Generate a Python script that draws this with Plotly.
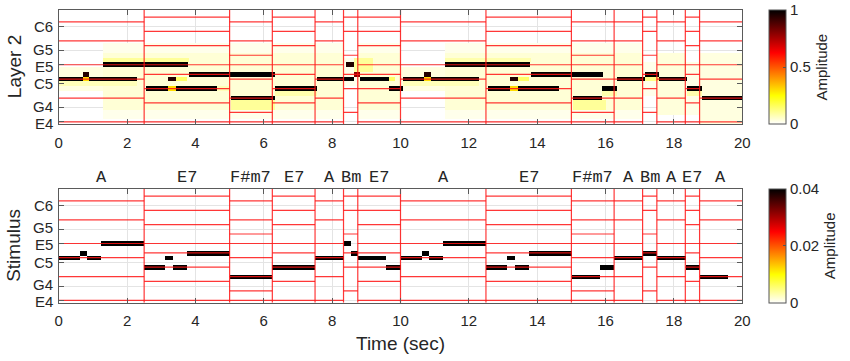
import numpy as np
import plotly.graph_objects as go

# ---------------- data ----------------
# chord segments (start, end in seconds) and names
seg_start = [0.0, 2.5, 5.0, 6.25, 7.5, 8.333, 8.75, 10.0, 12.5, 15.0, 16.25, 17.083, 17.5, 18.333, 18.75]
seg_end   = [2.5, 5.0, 6.25, 7.5, 8.333, 8.75, 10.0, 12.5, 15.0, 16.25, 17.083, 17.5, 18.333, 18.75, 20.0]
seg_chord = ["A", "E7", "F#m7", "E7", "A", "Bm", "E7", "A", "E7", "F#m7", "A", "Bm", "A", "E7", "A"]

# chord tones (MIDI numbers) inside the displayed range
tones_A    = [64, 69, 73, 76, 81, 85]
tones_E7   = [64, 68, 71, 74, 76, 80, 83, 86]
tones_Fsm7 = [64, 66, 69, 73, 76, 78, 81, 85]
tones_Bm   = [66, 71, 74, 78, 83, 86]

# y ticks
ytick_vals = [64, 67, 72, 76, 79, 84]
ytick_text = ["E4", "G4", "C5", "E5", "G5", "C6"]
ytick_nudge = [-1.3, 1.3, 0, -1.3, 1.3, 0]   # small label offsets (px) to keep labels apart
xtick_vals = [0, 2, 4, 6, 8, 10, 12, 14, 16, 18, 20]

# stimulus notes
stim_on  = [0.0, 0.625, 0.833, 1.25, 2.5, 3.125, 3.333, 3.75, 5.0, 6.25,
            7.5, 8.333, 8.542, 8.75, 9.583, 10.0, 10.625, 10.833, 11.25,
            12.5, 13.125, 13.333, 13.75, 15.0, 15.833, 16.25, 17.083, 17.5, 18.333, 18.75]
stim_off = [0.625, 0.833, 1.25, 2.5, 3.125, 3.333, 3.75, 5.0, 6.25, 7.5,
            8.333, 8.542, 8.75, 9.583, 10.0, 10.625, 10.833, 11.25, 12.5,
            13.125, 13.333, 13.75, 15.0, 15.833, 16.25, 17.083, 17.5, 18.333, 18.75, 19.583]
stim_pitch = [73, 74, 73, 76, 71, 73, 71, 74, 69, 71,
              73, 76, 74, 73, 71, 73, 74, 73, 76,
              71, 73, 71, 74, 69, 71, 73, 74, 73, 71, 69]
stim_amp = [0.04] * len(stim_on)

# Layer 2 notes
l2_on  = [0.0, 0.70, 0.88, 1.31, 2.55, 3.21, 3.43, 3.82, 5.05, 6.33, 7.57, 8.40, 8.65, 8.80, 9.66,
          10.07, 10.69, 10.88, 11.30, 12.54, 13.20, 13.42, 13.81, 15.04, 15.90, 16.32, 17.15, 17.54, 18.39, 18.81]
l2_off = [0.70, 0.88, 2.29, 3.79, 3.21, 3.43, 4.62, 6.33, 6.33, 7.57, 8.64, 8.64, 8.80, 9.66, 10.07,
          10.69, 10.88, 12.31, 13.79, 13.20, 13.42, 14.62, 15.93, 15.90, 16.32, 17.15, 17.54, 18.39, 18.81, 20.0]
l2_pitch = [73, 74, 73, 76, 71, 73, 71, 74, 69, 71, 73, 76, 74, 73, 71,
            73, 74, 73, 76, 71, 73, 71, 74, 69, 71, 73, 74, 73, 71, 69]
l2_amp = [1.0, 0.95, 1.0, 1.0, 1.0, 0.95, 1.0, 1.0, 1.0, 1.0, 1.0, 0.95, 0.8, 1.0, 1.0,
          1.0, 0.95, 1.0, 1.0, 1.0, 0.95, 1.0, 1.0, 1.0, 1.0, 1.0, 1.0, 1.0, 1.0, 1.0]

# Layer 2 low-level activity (start, end, low pitch, high pitch, amplitude)
haze_t0 = [0.0, 1.3, 1.3, 8.75, 8.75, 10.0, 11.3, 11.3, 17.5, 18.75, 8.333, 17.083, 18.333,
           0.70, 0.0, 1.3, 3.21, 3.43, 4.6, 5.05, 6.33, 8.64, 9.66,
           10.69, 10.07, 11.3, 13.20, 13.42, 15.04, 15.9, 17.15, 18.39]
haze_t1 = [1.3, 8.333, 8.333, 10.0, 10.0, 11.3, 17.083, 17.083, 18.333, 20.0, 8.75, 17.5, 18.75,
           0.88, 2.3, 3.8, 3.43, 3.75, 5.0, 6.33, 7.57, 9.2, 9.85,
           10.88, 12.3, 13.8, 13.42, 13.75, 16.0, 16.32, 17.6, 18.81]
haze_p0 = [71, 65, 67, 65, 67, 71, 65, 67, 66, 64, 72, 70, 66,
           73, 72, 77, 71, 73, 71, 67, 70, 75, 73,
           73, 72, 77, 71, 73, 67, 70, 73, 70]
haze_p1 = [75, 80, 78, 80, 78, 75, 80, 78, 78, 78, 77, 76, 76,
           73, 72, 77, 71, 73, 71, 68, 70, 77, 73,
           73, 72, 77, 71, 73, 68, 70, 73, 70]
haze_amp = [0.03, 0.02, 0.04, 0.02, 0.04, 0.03, 0.02, 0.04, 0.035, 0.03, 0.02, 0.02, 0.025,
            0.3, 0.07, 0.1, 0.3, 0.15, 0.07, 0.1, 0.08, 0.1, 0.15,
            0.3, 0.07, 0.08, 0.3, 0.15, 0.1, 0.08, 0.12, 0.08]

# ---------------- build matrices ----------------
dt = 0.02
tc = np.arange(0, 20, dt) + dt / 2
pitches = np.arange(64, 88)


def fill(z, on, off, plo, phi, amp):
    for a, b, p0, p1, v in zip(on, off, plo, phi, amp):
        cols = (tc >= a) & (tc < b)
        for p in range(p0, p1 + 1):
            r = p - 64
            if 0 <= r < len(pitches):
                z[r, cols] = np.maximum(z[r, cols], v)


z_top = np.zeros((len(pitches), len(tc)))
fill(z_top, haze_t0, haze_t1, haze_p0, haze_p1, haze_amp)
fill(z_top, l2_on, l2_off, l2_pitch, l2_pitch, l2_amp)

z_bot = np.zeros((len(pitches), len(tc)))
fill(z_bot, stim_on, stim_off, stim_pitch, stim_pitch, stim_amp)


def to_list(z):
    return [[(float(v) if v > 0 else None) for v in row] for row in z]


cs = [[0, "rgb(255,255,255)"], [0.25, "rgb(255,255,0)"], [0.625, "rgb(255,0,0)"], [1, "rgb(0,0,0)"]]

W, H = 850, 361
xl, xr = 58.7, 742.3
top_t, top_b = 10, 124.3
bot_t, bot_b = 189.0, 302.7


def py(p):
    return (H - p) / H


fig = go.Figure()

txt = "#262626"
cb_common = dict(thickness=17, thicknessmode="pixels", xanchor="left", x=769 / W, xpad=0, ypad=0,
                 lenmode="fraction", yanchor="middle", outlinecolor="#555", outlinewidth=1,
                 ticks="inside", ticklen=3, tickcolor="#555",
                 tickfont=dict(family="Arial, Liberation Sans", size=15, color=txt))
cb_title = dict(text="Amplitude", side="right",
                font=dict(family="Arial, Liberation Sans", size=15, color=txt))

fig.add_trace(go.Heatmap(x=tc, y=pitches, z=to_list(z_top), colorscale=cs, zmin=0, zmax=1,
                         xaxis="x", yaxis="y", hoverinfo="skip",
                         colorbar=dict(**cb_common, len=(top_b - top_t) / H, y=py((top_t + top_b) / 2),
                                       tickvals=[0, 0.5, 1], ticktext=["0", "0.5", "1"], title=cb_title)))
fig.add_trace(go.Heatmap(x=tc, y=pitches, z=to_list(z_bot), colorscale=cs, zmin=0, zmax=0.04,
                         xaxis="x2", yaxis="y2", hoverinfo="skip",
                         colorbar=dict(**cb_common, len=(bot_b - bot_t) / H, y=py((bot_t + bot_b) / 2),
                                       tickvals=[0, 0.02, 0.04], ticktext=["0", "0.02", "0.04"],
                                       title=cb_title)))

# chord tone lines
tone_map = {"A": tones_A, "E7": tones_E7, "F#m7": tones_Fsm7, "Bm": tones_Bm}
hx, hy = [], []
for a, b, c in zip(seg_start, seg_end, seg_chord):
    for p in tone_map[c]:
        hx += [a, b, None]
        hy += [p, p, None]
vx, vy = [], []
for a in seg_start[1:]:
    vx += [a, a, None]
    vy += [63.5, 87.5, None]

line_style = dict(color="rgba(255,20,20,0.85)", width=1.2)
for xa, ya in (("x", "y"), ("x2", "y2")):
    fig.add_trace(go.Scatter(x=hx, y=hy, mode="lines", line=line_style, xaxis=xa, yaxis=ya,
                             hoverinfo="skip", showlegend=False))
    fig.add_trace(go.Scatter(x=vx, y=vy, mode="lines", line=line_style, xaxis=xa, yaxis=ya,
                             hoverinfo="skip", showlegend=False))

axfont = dict(family="Arial, Liberation Sans", size=15, color=txt)
common = dict(showline=True, linecolor="#5a5a5a", linewidth=1.3, mirror="ticks", ticks="inside",
              ticklen=5, tickcolor="#5a5a5a", showgrid=True, gridcolor="#e4e4e4", gridwidth=1,
              zeroline=False, tickfont=axfont, automargin=False)

xdom = [xl / W, xr / W]
fig.update_layout(
    template="none",
    width=W, height=H, margin=dict(l=0, r=0, t=0, b=0, autoexpand=False),
    paper_bgcolor="white", plot_bgcolor="white", showlegend=False,
    xaxis=dict(domain=xdom, range=[0, 20], tickvals=xtick_vals, anchor="y", ticklabelstandoff=5, **common),
    yaxis=dict(domain=[py(top_b), py(top_t)], range=[63.5, 87.5], tickvals=ytick_vals,
               showticklabels=False, anchor="x", **common),
    xaxis2=dict(domain=xdom, range=[0, 20], tickvals=xtick_vals, anchor="y2", ticklabelstandoff=4, **common),
    yaxis2=dict(domain=[py(bot_b), py(bot_t)], range=[63.5, 87.5], tickvals=ytick_vals,
                showticklabels=False, anchor="x2", **common),
)

ann = []
# y tick labels (placed at the tick values, slightly nudged apart)
for yref in ("y", "y2"):
    for v, t, n in zip(ytick_vals, ytick_text, ytick_nudge):
        ann.append(dict(text=t, x=(xl - 5) / W, xref="paper", y=v, yref=yref, yshift=n,
                        xanchor="right", yanchor="middle", showarrow=False, borderpad=0,
                        font=axfont))
titlefont = dict(family="Arial, Liberation Sans", size=19, color=txt)
ann.append(dict(text="Layer 2", x=14 / W, y=py((top_t + top_b) / 2), xref="paper", yref="paper",
                textangle=-90, showarrow=False, font=titlefont, xanchor="center", yanchor="middle"))
ann.append(dict(text="Stimulus", x=14 / W, y=py((bot_t + bot_b) / 2), xref="paper", yref="paper",
                textangle=-90, showarrow=False, font=titlefont, xanchor="center", yanchor="middle"))
ann.append(dict(text="Time (sec)", x=(xl + xr) / 2 / W, y=py(343), xref="paper", yref="paper",
                showarrow=False, font=titlefont, xanchor="center", yanchor="middle"))
for a, b, c in zip(seg_start, seg_end, seg_chord):
    ann.append(dict(text=c, x=(a + b) / 2, y=py(177), xref="x2", yref="paper", showarrow=False,
                    font=dict(family="Liberation Mono, Courier New, monospace", size=17, color=txt),
                    xanchor="center", yanchor="middle"))
fig.update_layout(annotations=ann)

fig.write_html("out.html", config={"displayModeBar": False},
               post_script="document.body.style.margin='0px'; document.body.style.overflow='hidden';")
